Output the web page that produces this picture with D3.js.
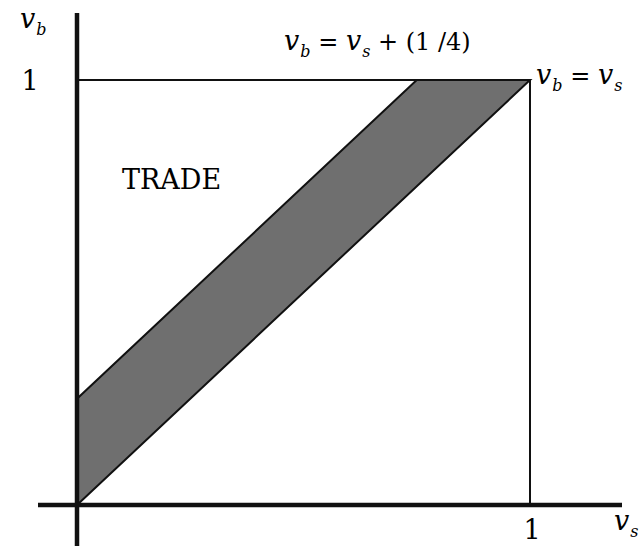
<!DOCTYPE html>
<html>
<head>
<meta charset="utf-8">
<script src="https://cdn.jsdelivr.net/npm/d3@7"></script>
<style>
  body { margin: 0; background: #fff; }
</style>
</head>
<body>
<div id="chart"></div>
<script>
/** Data */
const gap = 0.25; // v_b = v_s + gap
const xTicks = [1];
const yTicks = [1];
const lowerLine = [[0, 0], [1, 1]];
const upperLine = [[0, gap], [1 - gap, 1]];

const W = 644, H = 546;
const serif = "DejaVu Serif, Liberation Serif, serif";
const x = d3.scaleLinear().domain([0, 1]).range([77, 530]);
const y = d3.scaleLinear().domain([0, 1]).range([505, 80]);

const svg = d3.select("#chart").append("svg")
  .attr("width", W).attr("height", H)
  .style("font-family", serif);

/** Shaded band */
const band = [...lowerLine, ...upperLine.slice().reverse()];
svg.append("path")
  .attr("d", d3.line().x(d => x(d[0])).y(d => y(d[1]))(band) + "Z")
  .attr("fill", "#6f6f6f")
  .attr("stroke", "#111")
  .attr("stroke-width", 2);

/** Unit square (top and right) */
svg.append("path")
  .attr("d", d3.line().x(d => x(d[0])).y(d => y(d[1]))([[0, 1], [1, 1], [1, 0]]))
  .attr("fill", "none")
  .attr("stroke", "#111")
  .attr("stroke-width", 2);

/** Axes */
svg.append("line")
  .attr("x1", x(0)).attr("x2", x(0))
  .attr("y1", 13).attr("y2", H)
  .attr("stroke", "#111").attr("stroke-width", 4.5);
svg.append("line")
  .attr("x1", 38).attr("x2", 622)
  .attr("y1", y(0)).attr("y2", y(0))
  .attr("stroke", "#111").attr("stroke-width", 4.5);

/** Tick labels */
svg.selectAll(".xt").data(xTicks).enter().append("text")
  .attr("x", d => x(d) + 2).attr("y", 539)
  .attr("text-anchor", "middle")
  .style("font-size", "27px")
  .text(d => d);
svg.selectAll(".yt").data(yTicks).enter().append("text")
  .attr("x", 30).attr("y", d => y(d) + 10)
  .attr("text-anchor", "middle")
  .style("font-size", "27px")
  .text(d => d);

/** Axis labels & annotations */
const sub = (t, s) => t.append("tspan").style("font-style", "italic")
  .style("font-size", "16px").attr("dy", 7).attr("dx", 1).text(s);
const up = (t, s) => t.append("tspan").attr("dy", -7).text(s);
const v = t => t.append("tspan").style("font-style", "italic")
  .style("font-size", "27px").text("v");

const yl = svg.append("text").attr("x", 20).attr("y", 28).style("font-size", "24px");
v(yl); sub(yl, "b");

const xl = svg.append("text").attr("x", 614).attr("y", 530).style("font-size", "24px");
v(xl); sub(xl, "s");

const a1 = svg.append("text").attr("x", 284).attr("y", 50).style("font-size", "24px");
v(a1); sub(a1, "b"); up(a1, " = ");
v(a1); sub(a1, "s"); up(a1, " + (1 /4)");

const a2 = svg.append("text").attr("x", 536).attr("y", 84).style("font-size", "24px");
v(a2); sub(a2, "b"); up(a2, " = ");
v(a2); sub(a2, "s");

svg.append("text")
  .attr("x", 122).attr("y", 189)
  .style("font-size", "27px")
  .text("TRADE");
</script>
</body>
</html>
